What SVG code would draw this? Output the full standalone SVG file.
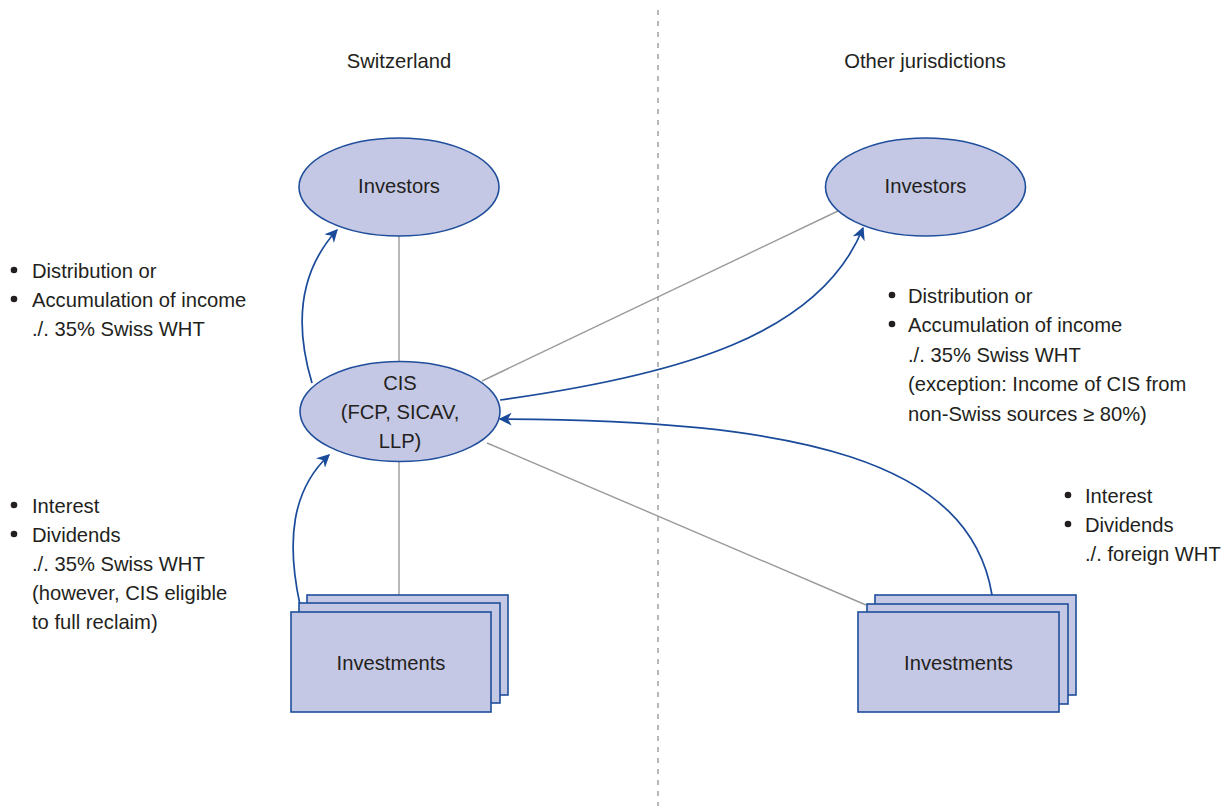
<svg xmlns="http://www.w3.org/2000/svg" width="1221" height="810" viewBox="0 0 1221 810">
<defs>
<style>
text{font-family:"Liberation Sans",Arial,sans-serif;font-size:20.2px;fill:#231f20}
.c{text-anchor:middle}
.node{fill:#c5c8e4;stroke:#1f4e9c;stroke-width:1.6}
.gray{stroke:#9a9a9a;stroke-width:1.4;fill:none}
.blue{stroke:#1a4a9a;stroke-width:1.7;fill:none;marker-end:url(#ah)}
</style>
<marker id="ah" viewBox="0 0 10 10" refX="9" refY="5" markerWidth="13" markerHeight="13" markerUnits="userSpaceOnUse" orient="auto"><path d="M0,0 L10,5 L0,10 L3,5 Z" fill="#1a4a9a"/></marker>
</defs>
<rect width="1221" height="810" fill="#ffffff"/>
<line x1="658" y1="10" x2="658" y2="806" stroke="#9a9a9a" stroke-width="1.4" stroke-dasharray="5,6"/>
<text class="c" x="399" y="68">Switzerland</text>
<text class="c" x="925" y="68">Other jurisdictions</text>
<g id="connectors">
<line class="gray" x1="399" y1="236" x2="399" y2="361"/>
<line class="gray" x1="399" y1="462" x2="399" y2="595"/>
<line class="gray" x1="482" y1="381" x2="838" y2="211"/>
<line class="gray" x1="487" y1="443" x2="866" y2="605"/>
<path class="blue" d="M312,383 C296,330 296,275 337,230"/>
<path class="blue" d="M300,605 C286,540 292,490 329,455"/>
<path class="blue" d="M500,400 C680,375 820,335 863,228"/>
<path class="blue" d="M992,595 C970,460 800,420 500,419"/>
</g>
<g id="investors-ch"><ellipse class="node" cx="399" cy="187" rx="100" ry="49"/><text class="c" x="399" y="193">Investors</text></g>
<g id="investors-other"><ellipse class="node" cx="925.5" cy="187" rx="100" ry="49"/><text class="c" x="925.5" y="193">Investors</text></g>
<g id="cis"><ellipse class="node" cx="400" cy="411.5" rx="100" ry="50"/><text class="c" x="400" y="390">CIS</text><text class="c" x="400" y="419">(FCP, SICAV,</text><text class="c" x="400" y="448">LLP)</text></g>
<g id="investments-ch"><rect class="node" x="307" y="595" width="201" height="100"/><rect class="node" x="299" y="603" width="201" height="100"/><rect class="node" x="291" y="612" width="200" height="100"/><text class="c" x="391" y="670">Investments</text></g>
<g id="investments-other"><rect class="node" x="875" y="595" width="201" height="100"/><rect class="node" x="867" y="604" width="201" height="100"/><rect class="node" x="858" y="612" width="201" height="100"/><text class="c" x="958.5" y="670">Investments</text></g>
<g id="label-ch-dist"><circle cx="14" cy="270" r="3.3" fill="#231f20"/><circle cx="14" cy="299" r="3.3" fill="#231f20"/><text x="32" y="278">Distribution or</text><text x="32" y="307">Accumulation of income</text><text x="32" y="336">./. 35% Swiss WHT</text></g>
<g id="label-other-dist"><circle cx="892" cy="295" r="3.3" fill="#231f20"/><circle cx="892" cy="324" r="3.3" fill="#231f20"/><text x="908" y="303">Distribution or</text><text x="908" y="332">Accumulation of income</text><text x="908" y="362">./. 35% Swiss WHT</text><text x="908" y="391">(exception: Income of CIS from</text><text x="908" y="421">non-Swiss sources ≥ 80%)</text></g>
<g id="label-ch-inc"><circle cx="14" cy="505" r="3.3" fill="#231f20"/><circle cx="14" cy="534" r="3.3" fill="#231f20"/><text x="32" y="513">Interest</text><text x="32" y="542">Dividends</text><text x="32" y="571">./. 35% Swiss WHT</text><text x="32" y="600">(however, CIS eligible</text><text x="32" y="629">to full reclaim)</text></g>
<g id="label-other-inc"><circle cx="1068" cy="495" r="3.3" fill="#231f20"/><circle cx="1068" cy="524" r="3.3" fill="#231f20"/><text x="1085" y="503">Interest</text><text x="1085" y="532">Dividends</text><text x="1085" y="561">./. foreign WHT</text></g>
</svg>
